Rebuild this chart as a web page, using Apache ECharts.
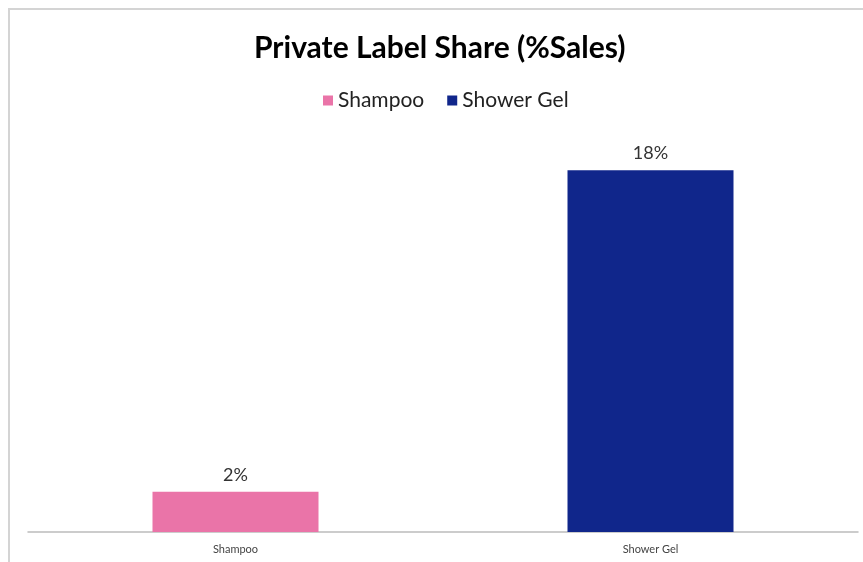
<!DOCTYPE html>
<html>
<head>
<meta charset="utf-8">
<script src="https://cdn.jsdelivr.net/npm/echarts@6/dist/echarts.min.js"></script>
<style>html,body{margin:0;padding:0;background:#fff}#c{width:863px;height:562px}</style>
</head>
<body>
<div id="c"></div>
<script>
var categories = ['Shampoo', 'Shower Gel'];
var seriesNames = ['Shampoo', 'Shower Gel'];
var shampooValues = [2, '-'];
var showerGelValues = ['-', 18];
var colors = ['#ea74a8', '#10268b'];

var chart = echarts.init(document.getElementById('c'));
chart.setOption({
  animation: false,
  title: {
    text: 'Private Label Share (%Sales)',
    left: 249,
    top: 28,
    textStyle: { fontFamily: 'Lato', fontWeight: 'bold', fontSize: 30, color: '#000' }
  },
  legend: {
    top: 85,
    left: 318,
    itemWidth: 10,
    itemHeight: 10,
    itemGap: 23,
    icon: 'rect',
    textStyle: { fontFamily: 'Lato', fontSize: 21, color: '#222' },
    data: seriesNames
  },
  graphic: [{
    type: 'polyline',
    shape: { points: [[9, 562], [9, 9], [863, 9]] },
    style: { stroke: '#d4d4d4', lineWidth: 2, fill: null },
    silent: true
  }],
  grid: { left: 28, right: 5, top: 130, bottom: 30 },
  xAxis: {
    type: 'category',
    data: categories,
    axisLine: { lineStyle: { color: '#bcbcbc', width: 1.5 } },
    axisTick: { show: false },
    axisLabel: { fontFamily: 'Lato', fontSize: 11, color: '#444', margin: 12 }
  },
  yAxis: {
    type: 'value',
    min: 0,
    max: 20,
    show: false,
    splitLine: { show: false }
  },
  series: [{
    name: seriesNames[0],
    type: 'bar',
    stack: 'a',
    barWidth: 166,
    data: shampooValues,
    itemStyle: { color: colors[0] },
    label: { show: true, position: 'top', formatter: '{c}%', fontFamily: 'Lato', fontSize: 18, color: '#333', distance: 8 }
  }, {
    name: seriesNames[1],
    type: 'bar',
    stack: 'a',
    barWidth: 166,
    data: showerGelValues,
    itemStyle: { color: colors[1] },
    label: { show: true, position: 'top', formatter: '{c}%', fontFamily: 'Lato', fontSize: 18, color: '#333', distance: 8 }
  }]
});
</script>
</body>
</html>
